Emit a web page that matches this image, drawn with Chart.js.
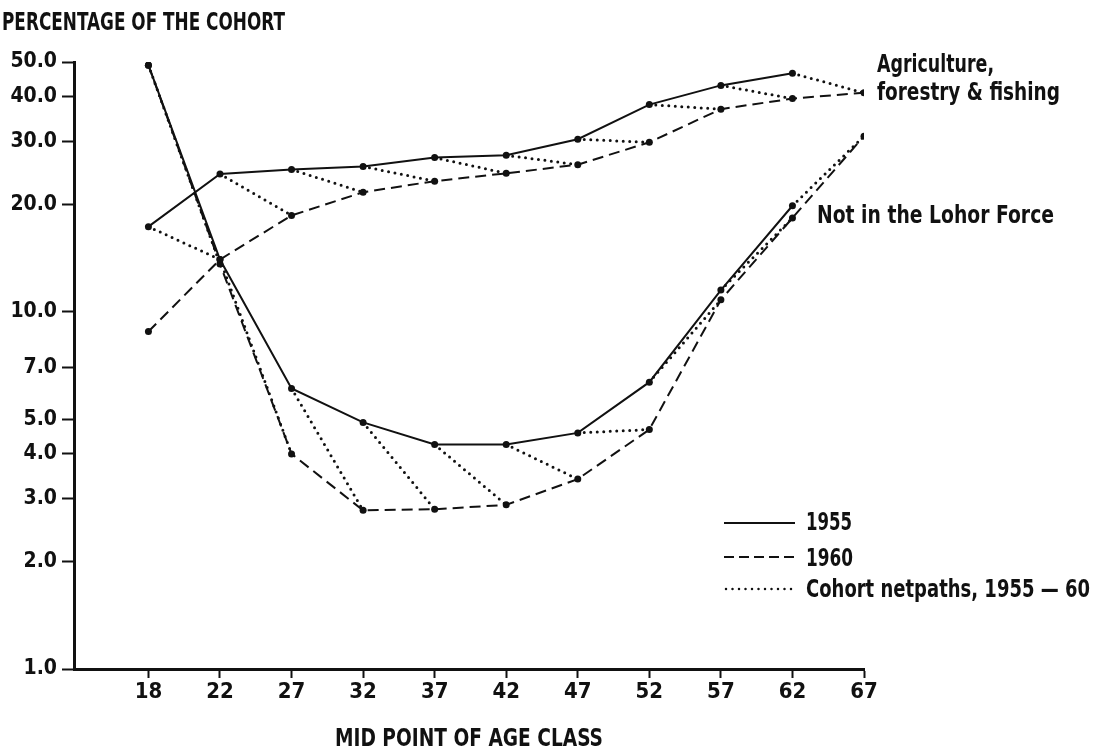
<!DOCTYPE html>
<html>
<head>
<meta charset="utf-8">
<title>Cohort net paths, 1955-60</title>
<script src="https://cdn.jsdelivr.net/npm/chart.js@4.4.1/dist/chart.umd.min.js"></script>
<style>
  html, body { margin: 0; padding: 0; background: #ffffff; }
  #wrap { width: 1096px; height: 748px; position: relative; }
</style>
</head>
<body>
<div id="wrap"><canvas id="chart" width="1096" height="748"></canvas></div>
<script>
// Mid point of each age class (evenly spaced on the axis)
const ageLabels = ['18', '22', '27', '32', '37', '42', '47', '52', '57', '62', '67'];

// Percentage of the cohort, log scale tick values
const yTicks = [1, 2, 3, 4, 5, 7, 10, 20, 30, 40, 50];

// Agriculture, forestry & fishing
const agri1955 = [17.3, 24.3, 25.0, 25.5, 27.0, 27.4, 30.4, 38.0, 43.0, 46.5, null];
const agri1960 = [8.8, 14.0, 18.6, 21.6, 23.2, 24.4, 25.8, 29.8, 36.9, 39.5, 41.0];

// Not in the labour force
const nilf1955 = [49.0, 14.0, 6.1, 4.9, 4.25, 4.25, 4.58, 6.35, 11.5, 19.8, null];
const nilf1960 = [49.0, 13.6, 4.0, 2.78, 2.8, 2.88, 3.4, 4.68, 10.8, 18.3, 31.0];

const INK = '#111111';
const DASH = [11, 6];
const DOTS = [0, 6.5];

function series(values) {
  return values.map((v, i) => ({ x: i, y: v }));
}

// Each cohort moves from age class i in 1955 to class i+1 in 1960
function cohortPaths(a, b) {
  const pts = [];
  for (let i = 0; i < a.length - 1; i++) {
    if (a[i] == null || b[i + 1] == null) continue;
    pts.push({ x: i, y: a[i] }, { x: i + 1, y: b[i + 1] }, { x: i + 0.5, y: null });
  }
  return pts;
}

function solid(values) {
  return { data: series(values), borderColor: INK, backgroundColor: INK, borderWidth: 2,
    pointRadius: 3.5, pointHoverRadius: 3.5, pointBorderWidth: 0, tension: 0 };
}
function dashed(values) {
  return Object.assign(solid(values), { borderDash: DASH });
}
function dotted(a, b) {
  return { data: cohortPaths(a, b), borderColor: INK, borderWidth: 3, borderDash: DOTS,
    borderCapStyle: 'round', pointRadius: 0, spanGaps: false, tension: 0 };
}

const SANS_C = '"DejaVu Sans Condensed", "DejaVu Sans", sans-serif';
const NARROW = '"Liberation Sans Narrow", "DejaVu Sans Condensed", sans-serif';

// Text squeezed to a given width, left aligned at a baseline
function fitText(ctx, text, x, baseline, width, font) {
  ctx.save();
  ctx.font = font;
  ctx.fillStyle = INK;
  ctx.textAlign = 'left';
  ctx.textBaseline = 'alphabetic';
  const w = ctx.measureText(text).width;
  ctx.translate(x, baseline);
  ctx.scale(width / w, 1);
  ctx.fillText(text, 0, 0);
  ctx.restore();
}

function legendLine(ctx, x1, x2, y, dash, width, cap) {
  ctx.save();
  ctx.strokeStyle = INK;
  ctx.lineWidth = width;
  ctx.lineCap = cap || 'butt';
  ctx.setLineDash(dash);
  ctx.beginPath();
  ctx.moveTo(x1, y);
  ctx.lineTo(x2, y);
  ctx.stroke();
  ctx.restore();
}

const labelsPlugin = {
  id: 'labels',
  afterDraw(chart) {
    const ctx = chart.ctx;
    fitText(ctx, 'PERCENTAGE OF THE COHORT', 2, 30, 283, 'bold 25px ' + SANS_C);
    fitText(ctx, 'MID POINT OF AGE CLASS', 335, 746, 268, 'bold 25px ' + SANS_C);
    fitText(ctx, 'Agriculture,', 877, 72, 117, 'bold 24px ' + SANS_C);
    fitText(ctx, 'forestry & fishing', 877, 100, 183, 'bold 24px ' + SANS_C);
    fitText(ctx, 'Not in the Lohor Force', 817, 223, 237, 'bold 24px ' + SANS_C);

    legendLine(ctx, 724, 795, 523, [], 2);
    legendLine(ctx, 724, 795, 557, [10, 5], 2);
    legendLine(ctx, 726, 795, 589, [0, 6.5], 2.5, 'round');
    fitText(ctx, '1955', 806, 530, 46, 'bold 24px ' + SANS_C);
    fitText(ctx, '1960', 806, 566, 47, 'bold 24px ' + SANS_C);
    fitText(ctx, 'Cohort netpaths, 1955 \u2014 60', 806, 597, 284, 'bold 24px ' + SANS_C);
  }
};

new Chart(document.getElementById('chart'), {
  type: 'line',
  data: {
    datasets: [
      solid(agri1955),
      dashed(agri1960),
      dotted(agri1955, agri1960),
      solid(nilf1955),
      dashed(nilf1960),
      dotted(nilf1955, nilf1960)
    ]
  },
  options: {
    responsive: false,
    animation: false,
    events: [],
    layout: { padding: { left: 0, right: 232, top: 62, bottom: 0 } },
    plugins: { legend: { display: false }, tooltip: { enabled: false }, title: { display: false } },
    scales: {
      x: {
        type: 'linear',
        min: -1.04,
        max: ageLabels.length - 1,
        afterBuildTicks(scale) {
          scale.ticks = ageLabels.map((_, i) => ({ value: i }));
        },
        afterFit(scale) { scale.height = 79; },
        ticks: {
          autoSkip: false,
          maxRotation: 0,
          padding: 1,
          color: INK,
          font: { family: NARROW, size: 22, weight: 'bold' },
          callback: (v) => ageLabels[v] ?? ''
        },
        grid: { drawOnChartArea: false, drawTicks: true, tickLength: 9, tickWidth: 2, tickColor: INK },
        border: { display: true, color: INK, width: 3 }
      },
      y: {
        type: 'logarithmic',
        min: 1,
        max: 50,
        afterBuildTicks(scale) {
          scale.ticks = yTicks.map((v) => ({ value: v }));
        },
        afterFit(scale) { scale.width = 74; },
        ticks: {
          autoSkip: false,
          padding: 5,
          color: INK,
          font: { family: SANS_C, size: 21, weight: 'bold' },
          callback: (v) => Number(v).toFixed(1)
        },
        grid: { drawOnChartArea: false, drawTicks: true, tickLength: 12, tickWidth: 2, tickColor: INK },
        border: { display: true, color: INK, width: 3 }
      }
    }
  },
  plugins: [labelsPlugin]
});
</script>
</body>
</html>
